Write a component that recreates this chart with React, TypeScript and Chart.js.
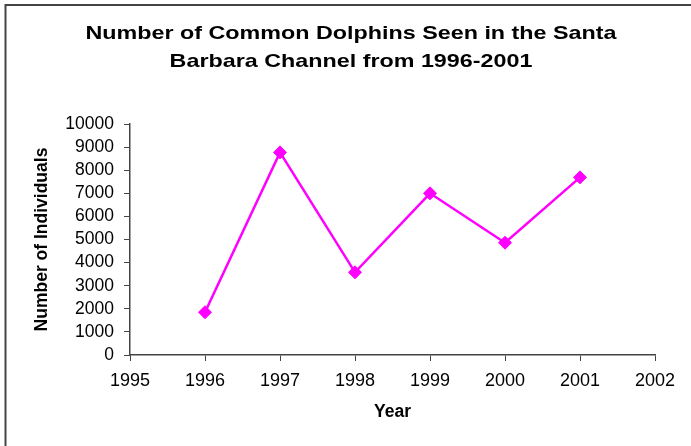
import React, { useEffect, useRef } from "react";
import { Chart, registerables } from "chart.js";

Chart.register(...registerables);

const titleLines = ["Number of Common Dolphins Seen in the Santa", "Barbara Channel from 1996-2001"];
const years = [1996, 1997, 1998, 1999, 2000, 2001];
const dolphins = [1850, 8770, 3580, 7000, 4860, 7690];
const xTitle = "Year";
const yTitle = "Number of Individuals";
const xMin = 1995;
const xMax = 2002;
const yMin = 0;
const yMax = 10000;
const yStep = 1000;

const FONT = "'Liberation Sans', Arial, sans-serif";

const framePlugin = {
  id: "frame",
  beforeDraw(chart: any) {
    const ctx = chart.ctx;
    ctx.save();
    ctx.fillStyle = "#ffffff";
    ctx.fillRect(0, 0, chart.width, chart.height);
    ctx.strokeStyle = "#444444";
    ctx.lineWidth = 2;
    ctx.strokeRect(5.5, 5, chart.width + 20, chart.height + 20);
    ctx.restore();
  },
};

// Title drawn as real text, horizontally widened to match the reference's wide bold title
const wideTitlePlugin = {
  id: "wideTitle",
  afterDraw(chart: any) {
    const ctx = chart.ctx;
    ctx.save();
    ctx.fillStyle = "#000";
    ctx.font = `bold 18.5px ${FONT}`;
    ctx.textAlign = "center";
    ctx.textBaseline = "alphabetic";
    const baselines = [39, 66.5];
    titleLines.forEach((line, i) => {
      ctx.save();
      ctx.translate(351, baselines[i]);
      ctx.scale(1.26, 1);
      ctx.fillText(line, 0, 0);
      ctx.restore();
    });
    ctx.restore();
  },
};

export default function App() {
  const ref = useRef<HTMLCanvasElement | null>(null);
  useEffect(() => {
    if (!ref.current) return;
    const chart = new Chart(ref.current, {
      type: "line",
      data: {
        datasets: [
          {
            data: years.map((y, i) => ({ x: y, y: dolphins[i] })),
            borderColor: "#ff00ff",
            backgroundColor: "#ff00ff",
            borderWidth: 2.5,
            pointStyle: "rectRot",
            pointRadius: 6.5,
            pointBorderWidth: 1,
            pointBackgroundColor: "#ff00ff",
            pointBorderColor: "#ff00ff",
            tension: 0,
          },
        ],
      },
      options: {
        animation: false,
        responsive: false,
        layout: { padding: { left: 0, right: 36, top: 124, bottom: 0 } },
        plugins: {
          legend: { display: false },
          tooltip: { enabled: false },
          title: { display: false },
        },
        scales: {
          x: {
            type: "linear",
            min: xMin,
            max: xMax,
            afterFit: (s: any) => {
              s.height = 91;
            },
            ticks: {
              stepSize: 1,
              autoSkip: false,
              color: "#000",
              font: { family: FONT, size: 18 },
              padding: 9,
              maxRotation: 0,
              callback: (v: any) => String(v),
            },
            grid: { display: true, drawOnChartArea: false, drawTicks: true, tickLength: 6, color: "#444", lineWidth: 1 },
            border: { display: true, color: "#444", width: 1.5 },
            title: {
              display: true,
              text: xTitle,
              color: "#000",
              font: { family: FONT, size: 17.5, weight: "bold", lineHeight: 1.2 },
              padding: { top: 0, bottom: 23 },
            },
          },
          y: {
            min: yMin,
            max: yMax,
            afterFit: (s: any) => {
              s.width = 130;
            },
            ticks: {
              stepSize: yStep,
              autoSkip: false,
              color: "#000",
              font: { family: FONT, size: 17.5 },
              padding: 10,
              callback: (v: any) => String(v),
            },
            grid: { display: true, drawOnChartArea: false, drawTicks: true, tickLength: 6, color: "#444", lineWidth: 1 },
            border: { display: true, color: "#444", width: 1.5 },
            title: {
              display: true,
              text: yTitle,
              color: "#000",
              font: { family: FONT, size: 17.5, weight: "bold", lineHeight: 1.2 },
              padding: { top: 32, bottom: 0 },
            },
          },
        },
      },
      plugins: [framePlugin, wideTitlePlugin],
    } as any);
    return () => chart.destroy();
  }, []);
  return (
    <div style={{ position: "fixed", left: 0, top: 0, width: 691, height: 446, background: "#fff" }}>
      <canvas ref={ref} width={691} height={446} style={{ display: "block", width: 691, height: 446 }} />
    </div>
  );
}
